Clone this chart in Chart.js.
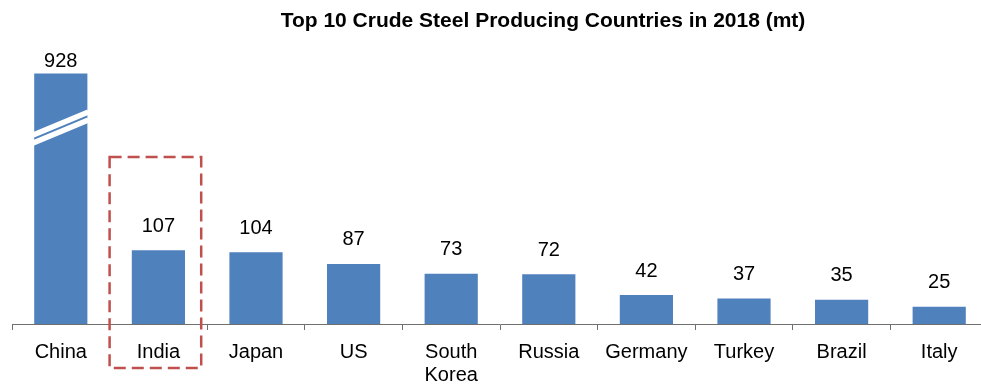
<!DOCTYPE html>
<html>
<head>
<meta charset="utf-8">
<script src="https://cdn.jsdelivr.net/npm/chart.js@4.4.1/dist/chart.umd.min.js"></script>
<style>
  html, body { margin: 0; padding: 0; background: #fff; overflow: hidden; }
  #wrap { position: absolute; left: 0; top: 0; width: 1000px; height: 386px; }
</style>
</head>
<body>
<div id="wrap"><canvas id="steelChart"></canvas></div>
<script>
const countries = ["China", "India", "Japan", "US", ["South", "Korea"], "Russia", "Germany", "Turkey", "Brazil", "Italy"];
const output = [928, 107, 104, 87, 73, 72, 42, 37, 35, 25];
const titleText = "Top 10 Crude Steel Producing Countries in 2018 (mt)";
const highlighted = 1; // India

const FONT = '"Liberation Sans", Arial, sans-serif';

// Linear scale with a break: values above breakAt are squeezed so
// the China bar still fits next to the others.
class BrokenScale extends Chart.LinearScale {
  squash(v) {
    const o = this.options.brk;
    if (v <= o.breakAt) return v;
    return o.breakAt + (v - o.breakAt) * (o.shownTop - o.breakAt) / (o.valueTop - o.breakAt);
  }
  getPixelForValue(v) {
    if (v === null || v === undefined) return NaN;
    return super.getPixelForValue(this.squash(v));
  }
}
BrokenScale.id = "broken";
BrokenScale.defaults = Chart.LinearScale.defaults;
Chart.register(BrokenScale);

const valueLabels = {
  id: "valueLabels",
  afterDatasetsDraw(chart, args, opts) {
    const ctx = chart.ctx;
    const brk = chart.scales.y.options.brk;
    const meta = chart.getDatasetMeta(0);
    ctx.save();
    ctx.font = "20px " + FONT;
    ctx.fillStyle = "#000";
    ctx.textAlign = "center";
    ctx.textBaseline = "middle";
    meta.data.forEach((bar, i) => {
      const v = output[i];
      const off = v > brk.breakAt ? opts.brokenOffset : opts.offset;
      ctx.fillText(String(v), bar.x, bar.y - off);
    });
    ctx.restore();
  }
};

// white diagonal cut across the bar that runs past the break
const breakMarks = {
  id: "breakMarks",
  afterDatasetsDraw(chart) {
    const ctx = chart.ctx;
    const brk = chart.scales.y.options.brk;
    const meta = chart.getDatasetMeta(0);
    ctx.save();
    ctx.strokeStyle = "#fff";
    ctx.lineWidth = 5.5;
    meta.data.forEach((bar, i) => {
      if (output[i] <= brk.breakAt) return;
      const l = bar.x - bar.width / 2 - 1, r = bar.x + bar.width / 2 + 1;
      [50, 58].forEach(dy => {
        const yc = bar.y + dy;
        ctx.beginPath();
        ctx.moveTo(l, yc + 11.5);
        ctx.lineTo(r, yc - 11.5);
        ctx.stroke();
      });
    });
    ctx.restore();
  }
};

const highlightBox = {
  id: "highlightBox",
  afterDraw(chart) {
    const ctx = chart.ctx;
    const xs = chart.scales.x;
    const step = xs.width / countries.length;
    const left = xs.getPixelForValue(highlighted) - step / 2;
    const right = left + step - 6;
    const top = chart.scales.y.getPixelForValue(242);
    const bottom = chart.chartArea.bottom + 44;
    ctx.save();
    ctx.strokeStyle = "#C0504D";
    ctx.lineWidth = 2.5;
    ctx.setLineDash([12, 6]);
    ctx.strokeRect(left, top, right - left, bottom - top);
    ctx.restore();
  }
};

const chartTitle = {
  id: "chartTitle",
  afterDraw(chart) {
    const ctx = chart.ctx;
    ctx.save();
    ctx.font = "bold 21px " + FONT;
    ctx.fillStyle = "#000";
    ctx.textAlign = "center";
    ctx.textBaseline = "alphabetic";
    ctx.fillText(titleText, 543, 27);
    ctx.restore();
  }
};

new Chart(document.getElementById("steelChart"), {
  type: "bar",
  data: {
    labels: countries,
    datasets: [{
      data: output,
      backgroundColor: "#4F81BD",
      borderWidth: 0,
      categoryPercentage: 1,
      barPercentage: 0.545
    }]
  },
  options: {
    responsive: true,
    maintainAspectRatio: false,
    animation: false,
    layout: { padding: { left: 12, right: 12, top: 48, bottom: 0 } },
    plugins: {
      legend: { display: false },
      tooltip: { enabled: false },
      valueLabels: { offset: 24, brokenOffset: 12 }
    },
    scales: {
      x: {
        grid: {
          display: true,
          offset: true,
          drawOnChartArea: false,
          drawTicks: true,
          tickLength: 6,
          color: "#707070"
        },
        border: { display: true, color: "#707070", width: 1 },
        ticks: {
          color: "#000",
          padding: 11,
          autoSkip: false,
          maxRotation: 0,
          font: { family: FONT, size: 20, lineHeight: 1.15 }
        },
        afterFit(scale) { scale.height = 62; }
      },
      y: {
        type: "broken",
        display: false,
        min: 0,
        max: 400,
        brk: { breakAt: 300, valueTop: 928, shownTop: 363 }
      }
    }
  },
  plugins: [valueLabels, breakMarks, highlightBox, chartTitle]
});
</script>
</body>
</html>
